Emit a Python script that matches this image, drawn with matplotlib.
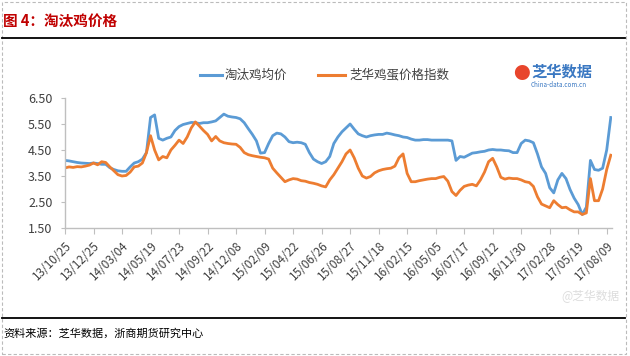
import matplotlib
matplotlib.use("Agg")
import matplotlib.pyplot as plt
from matplotlib.lines import Line2D
from matplotlib.patches import Rectangle

plt.rcParams['font.family'] = ['Noto Sans CJK SC', 'DejaVu Sans']

# data: one point per ~4 px of the original, 7 points between labelled ticks
culled_hen = [
    4.10, 4.08, 4.05, 4.02, 4.00, 3.99, 3.98, 4.00, 3.98, 3.95,
    3.95, 3.82, 3.75, 3.70, 3.68, 3.68, 3.85, 4.00, 4.05, 4.15,
    4.40, 5.75, 5.85, 4.95, 4.88, 4.95, 5.00, 5.25, 5.40, 5.48,
    5.52, 5.56, 5.55, 5.52, 5.55, 5.55, 5.58, 5.62, 5.75, 5.88,
    5.80, 5.77, 5.75, 5.70, 5.55, 5.32, 5.10, 4.85, 4.38, 4.40,
    4.75, 5.05, 5.15, 5.12, 5.00, 4.82, 4.78, 4.80, 4.78, 4.72,
    4.40, 4.15, 4.05, 3.98, 4.05, 4.25, 4.75, 5.00, 5.20, 5.35,
    5.50, 5.30, 5.12, 5.05, 5.00, 5.05, 5.08, 5.10, 5.10, 5.15,
    5.12, 5.08, 5.05, 5.00, 4.98, 4.92, 4.88, 4.88, 4.90, 4.90,
    4.88, 4.88, 4.88, 4.88, 4.88, 4.85, 4.10, 4.25, 4.22, 4.30,
    4.38, 4.40, 4.43, 4.45, 4.50, 4.52, 4.50, 4.50, 4.48, 4.47,
    4.40, 4.40, 4.75, 4.88, 4.85, 4.78, 4.35, 3.85, 3.60, 3.05,
    2.85, 3.35, 3.60, 3.40, 2.98, 2.65, 2.40, 2.02, 2.30, 4.10,
    3.75, 3.72, 3.80, 4.50, 5.75,
]
egg_index = [
    3.81, 3.85, 3.83, 3.86, 3.85, 3.88, 3.92, 4.00, 3.93, 4.05,
    4.02, 3.85, 3.70, 3.55, 3.50, 3.52, 3.65, 3.85, 3.88, 4.00,
    4.40, 5.05, 4.50, 4.12, 4.25, 4.20, 4.50, 4.68, 4.88, 4.75,
    5.00, 5.35, 5.58, 5.42, 5.25, 5.10, 4.85, 5.02, 4.85, 4.78,
    4.75, 4.73, 4.72, 4.60, 4.40, 4.32, 4.28, 4.25, 4.22, 4.20,
    4.15, 3.80, 3.62, 3.45, 3.28, 3.35, 3.40, 3.38, 3.32, 3.30,
    3.25, 3.22, 3.18, 3.12, 3.08, 3.35, 3.55, 3.80, 4.05, 4.35,
    4.50, 4.20, 3.80, 3.50, 3.42, 3.48, 3.62, 3.70, 3.75, 3.78,
    3.80, 3.88, 4.20, 4.35, 3.60, 3.28, 3.28, 3.32, 3.35, 3.38,
    3.40, 3.40, 3.45, 3.48, 3.30, 2.90, 2.75, 2.95, 3.10, 3.15,
    3.18, 3.12, 3.35, 3.65, 4.05, 4.18, 3.85, 3.45, 3.38, 3.42,
    3.40, 3.40, 3.35, 3.28, 3.25, 3.10, 2.70, 2.42, 2.35, 2.28,
    2.55, 2.40, 2.28, 2.30, 2.20, 2.12, 2.12, 2.02, 2.08, 3.40,
    2.55, 2.55, 3.00, 3.75, 4.30,
]
date_labels = [
    "13/10/25", "13/12/25", "14/03/04", "14/05/19", "14/07/23",
    "14/09/22", "14/12/08", "15/02/09", "15/04/22", "15/06/26",
    "15/08/27", "15/11/18", "16/02/15", "16/05/05", "16/07/17",
    "16/09/12", "16/11/30", "17/02/28", "17/05/19", "17/08/09",
]
label_step = 7
y_ticks = [1.5, 2.5, 3.5, 4.5, 5.5, 6.5]

blue = "#5B9BD5"
orange = "#ED7D31"
W, H = 630, 356

fig = plt.figure(figsize=(W / 100, H / 100), dpi=100)

# page furniture
fig.patches.append(Rectangle((2 / W, 2 / H), 624 / W, 352 / H, transform=fig.transFigure,
                             fill=False, edgecolor="#BBBBBB", lw=0.8, ls=(0, (3, 2))))
fig.add_artist(Line2D([2 / W, 625 / W], [1 - 38 / H] * 2, color="black", lw=1.3))
fig.add_artist(Line2D([2 / W, 625 / W], [1 - 318 / H] * 2, color="black", lw=1.3))
fig.text(3 / W, 1 - 21 / H, "图 4：淘汰鸡价格", color="#C00000", fontsize=10.5,
         fontweight="bold", va="center", ha="left")
fig.text(3 / W, 1 - 333 / H, "资料来源：芝华数据，浙商期货研究中心", color="black",
         fontsize=8, va="center", ha="left")

ax = fig.add_axes([65 / W, 1 - 228 / H, 547 / W, 130 / H])
x = list(range(len(culled_hen)))
ax.plot(x, culled_hen, color=blue, lw=2.0, solid_joinstyle="round")
ax.plot(x, egg_index, color=orange, lw=2.0, solid_joinstyle="round")

ax.set_ylim(1.5, 6.5)
ax.set_xlim(0, 134.3)
ax.set_yticks(y_ticks, [f"{v:.2f}" for v in y_ticks])
tick_pos = [i * label_step for i in range(len(date_labels))]
ax.set_xticks(tick_pos, date_labels, rotation=45, ha="right", va="top",
              rotation_mode="anchor")
ax.tick_params(axis="y", length=3, color="#BFBFBF", labelsize=9, labelcolor="#404040", pad=6)
ax.tick_params(axis="x", length=4, color="#BFBFBF", labelsize=8.5, labelcolor="#404040", pad=4)
for side in ["top", "right"]:
    ax.spines[side].set_visible(False)
for side in ["left", "bottom"]:
    ax.spines[side].set_color("#BFBFBF")
    ax.spines[side].set_linewidth(1.0)

# legend
fig.add_artist(Line2D([200 / W, 222 / W], [1 - 75 / H] * 2, color=blue, lw=2.2))
fig.text(225 / W, 1 - 75 / H, "淘汰鸡均价", fontsize=9, va="center", color="#404040")
fig.add_artist(Line2D([318 / W, 345 / W], [1 - 75 / H] * 2, color=orange, lw=2.2))
fig.text(349 / W, 1 - 75 / H, "芝华鸡蛋价格指数", fontsize=9, va="center", color="#404040")

# logo
fig.text(513 / W, 1 - 74 / H, "●", fontsize=12, color="#E8452C", va="center")
fig.text(531 / W, 1 - 72 / H, "芝华数据", fontsize=11, color="#3A78C2",
         fontweight="bold", va="center")
fig.text(531 / W, 1 - 85 / H, "China-data.com.cn", fontsize=4.5, color="#3A78C2", va="center")

# faint watermark
fig.text(620 / W, 1 - 296 / H, "@芝华数据", fontsize=8.5, color="#DDDDDD",
         va="center", ha="right")

fig.savefig("out.png", dpi=100)
